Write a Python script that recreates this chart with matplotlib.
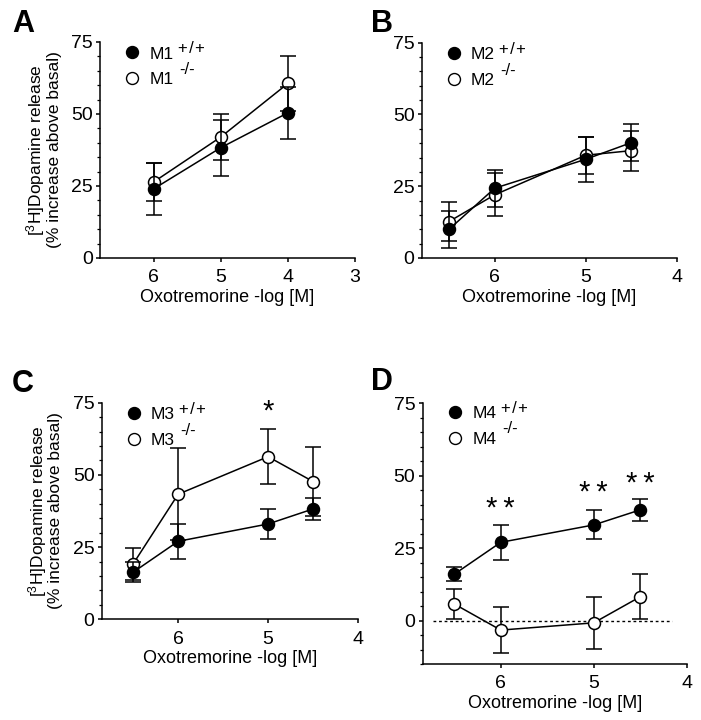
import matplotlib
matplotlib.use("Agg")
import matplotlib.pyplot as plt
from matplotlib.lines import Line2D
from matplotlib.ticker import MultipleLocator, FixedLocator

plt.rcParams['font.family'] = ['Liberation Sans', 'DejaVu Sans']
plt.rcParams['mathtext.fontset'] = 'custom'
plt.rcParams['mathtext.rm'] = 'Liberation Sans'
plt.rcParams['mathtext.it'] = 'Liberation Sans:italic'
plt.rcParams['mathtext.bf'] = 'Liberation Sans:bold'

# ---- data (x = -log[M] of oxotremorine) ----
A_x = [6, 5, 4]
A_wt = [24.0, 38.3, 50.4]
A_wt_err = [9.0, 9.7, 9.0]
A_ko = [26.4, 42.0, 60.6]
A_ko_err = [6.6, 8.0, 9.5]

B_x = [6.5, 6, 5, 4.5]
B_wt = [10.0, 24.3, 34.4, 40.2]
B_wt_err = [6.5, 6.5, 7.8, 6.5]
B_ko = [12.7, 22.0, 35.8, 37.4]
B_ko_err = [6.8, 7.5, 6.5, 7.0]

C_x = [6.5, 6, 5, 4.5]
C_wt = [16.3, 27.0, 33.0, 38.2]
C_wt_err = [3.5, 6.0, 5.2, 3.7]
C_ko = [19.2, 43.3, 56.3, 47.7]
C_ko_err = [5.5, 16.0, 9.5, 12.0]

D_x = [6.5, 6, 5, 4.5]
D_wt = [16.0, 27.0, 33.0, 38.2]
D_wt_err = [2.5, 6.1, 5.0, 3.7]
D_ko = [5.7, -3.3, -0.8, 8.2]
D_ko_err = [5.3, 7.9, 9.0, 7.7]

C_sig_x = [5]
C_sig_y = [69.0]
C_sig_txt = ['*']
D_sig_x = [6, 5, 4.5]
D_sig_y = [35.8, 41.2, 44.4]
D_sig_txt = ['*\u2009*', '*\u2009*', '*\u2009*']

legend_sups = ['+\u200a/\u200a+', '-/-']

panels = [
    dict(label='A', name='M1', x=A_x, wt=A_wt, wte=A_wt_err, ko=A_ko, koe=A_ko_err,
         xlim=(6.8, 3), xticks=[6, 5, 4, 3], ylim=(0, 75), ylabel=True,
         rect=[0.1427, 0.6417, 0.3637, 0.3000], sig=None, lab_xy=(12, 32)),
    dict(label='B', name='M2', x=B_x, wt=B_wt, wte=B_wt_err, ko=B_ko, koe=B_ko_err,
         xlim=(6.8, 4), xticks=[6, 5, 4], ylim=(0, 75), ylabel=False,
         rect=[0.6016, 0.6417, 0.3642, 0.2990], sig=None, lab_xy=(371, 32)),
    dict(label='C', name='M3', x=C_x, wt=C_wt, wte=C_wt_err, ko=C_ko, koe=C_ko_err,
         xlim=(6.85, 4), xticks=[6, 5, 4], ylim=(0, 75), ylabel=True,
         rect=[0.1451, 0.1399, 0.3656, 0.3008], sig=(C_sig_x, C_sig_y, C_sig_txt),
         lab_xy=(12, 392)),
    dict(label='D', name='M4', x=D_x, wt=D_wt, wte=D_wt_err, ko=D_ko, koe=D_ko_err,
         xlim=(6.84, 4), xticks=[6, 5, 4], ylim=(-15, 75), ylabel=False,
         rect=[0.6030, 0.0778, 0.3766, 0.3621], sig=(D_sig_x, D_sig_y, D_sig_txt),
         lab_xy=(371, 390)),
]

W, H = 701, 720
fig = plt.figure(figsize=(W / 100, H / 100), dpi=100)
fig.patch.set_facecolor('white')

for p in panels:
    ax = fig.add_axes(p['rect'])
    ax.errorbar(p['x'], p['ko'], yerr=p['koe'], fmt='o-', color='black', mfc='white',
                mec='black', ms=8.6, mew=1.1, lw=1.1, elinewidth=1.1, capsize=6,
                capthick=1.1, zorder=2)
    ax.errorbar(p['x'], p['wt'], yerr=p['wte'], fmt='o-', color='black', mfc='black',
                mec='black', ms=8.6, mew=1.1, lw=1.1, elinewidth=1.1, capsize=6,
                capthick=1.1, zorder=3)
    ax.set_xlim(*p['xlim'])
    ax.set_ylim(*p['ylim'])
    ax.xaxis.set_major_locator(FixedLocator(p['xticks']))
    ax.set_xticklabels([str(t) for t in p['xticks']])
    ax.yaxis.set_major_locator(FixedLocator([0, 25, 50, 75]))
    ax.yaxis.set_minor_locator(MultipleLocator(5))
    ax.spines['top'].set_visible(False)
    ax.spines['right'].set_visible(False)
    for s in ('left', 'bottom'):
        ax.spines[s].set_linewidth(1.1)
    ax.tick_params(axis='both', which='major', direction='out', length=3.2, width=1.1,
                   labelsize=14)
    ax.tick_params(axis='x', which='major', pad=5)
    ax.tick_params(axis='y', which='major', pad=2)
    ax.tick_params(axis='y', which='minor', direction='out', length=2.2, width=0.9)
    ax.set_xlabel('Oxotremorine -log [M]', fontsize=13, labelpad=2)
    if p['ylabel']:
        ax.set_ylabel('[$^{3}$H]Dopamine release\n(% increase above basal)',
                      fontsize=12.5, linespacing=0.95)
        ax.yaxis.set_label_coords(-0.15, 0.5)
    if p['label'] == 'D':
        ax.axhline(0, xmin=0.04, xmax=0.943, color='black', lw=1.0, ls=(0, (2, 2)),
                   zorder=1)
    if p['sig'] is not None:
        for sx, sy, st in zip(*p['sig']):
            ax.text(sx, sy, st, ha='center', va='baseline', fontsize=21)
    handles = [
        Line2D([], [], ls='none', marker='o', color='black', mfc='black', ms=8.6),
        Line2D([], [], ls='none', marker='o', color='black', mfc='white', ms=8.6),
    ]
    leg = ax.legend(handles, [p['name'], p['name']], loc='upper left',
                    bbox_to_anchor=(0.05, 1.036), frameon=False, fontsize=12.5,
                    handlelength=0.8, handletextpad=0.6, labelspacing=0.62,
                    borderpad=0.2)
    for txt, sup, dy, dx in zip(leg.get_texts(), legend_sups, [6.0, 9.8], [3.0, 4.0]):
        ax.annotate(sup, xy=(1.0, 0.0), xycoords=txt, xytext=(dx, dy),
                    textcoords='offset points', ha='left', va='baseline',
                    fontsize=12, zorder=10)
    lx, ly = p['lab_xy']
    fig.text(lx / W, 1 - ly / H, p['label'], fontsize=22,
             fontweight='bold', ha='left', va='baseline')

fig.savefig('out.png', dpi=100, facecolor='white')
